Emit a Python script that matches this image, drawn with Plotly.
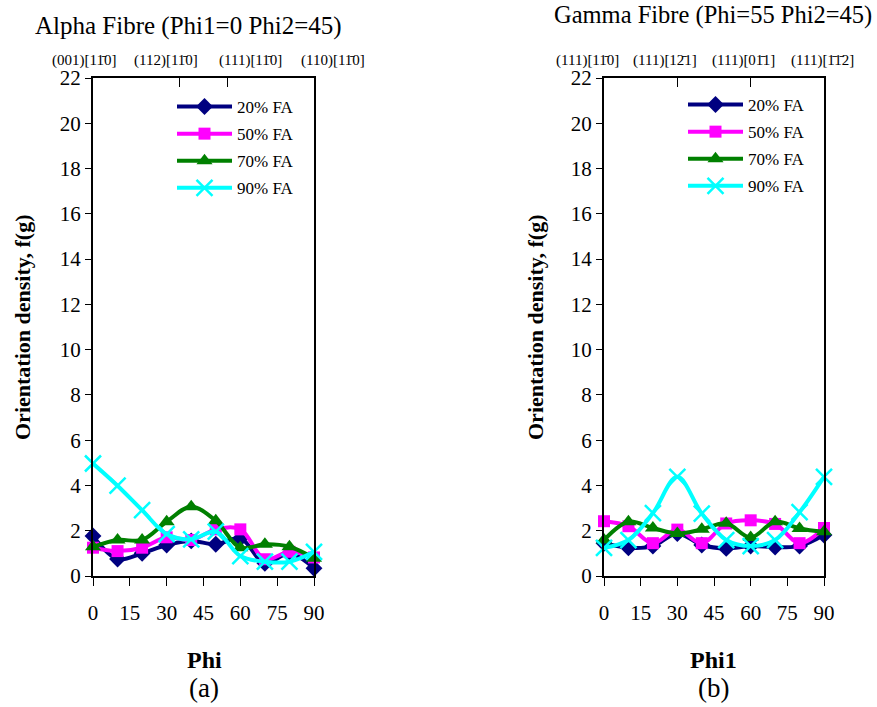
import plotly.graph_objects as go

# Sample angles (degrees) along each fibre
angles = [0, 10, 20, 30, 40, 50, 60, 70, 80, 90]

# Alpha fibre: orientation density f(g) vs Phi
alpha_20 = [1.77, 0.75, 1.00, 1.37, 1.55, 1.40, 1.66, 0.56, 1.00, 0.34]
alpha_50 = [1.25, 1.10, 1.25, 1.71, 1.59, 2.06, 2.06, 0.74, 1.07, 0.82]
alpha_70 = [1.29, 1.59, 1.59, 2.40, 3.06, 2.44, 1.25, 1.40, 1.29, 0.78]
alpha_90 = [4.97, 3.99, 2.91, 1.85, 1.62, 1.96, 0.88, 0.63, 0.63, 1.07]

# Gamma fibre: orientation density f(g) vs Phi1
gamma_20 = [1.45, 1.25, 1.32, 1.88, 1.37, 1.22, 1.32, 1.28, 1.32, 1.81]
gamma_50 = [2.42, 2.20, 1.45, 2.05, 1.45, 2.32, 2.46, 2.30, 1.45, 2.12]
gamma_70 = [1.59, 2.40, 2.12, 1.88, 2.06, 2.33, 1.70, 2.40, 2.10, 1.95]
gamma_90 = [1.24, 1.59, 2.78, 4.38, 2.76, 1.59, 1.32, 1.59, 2.82, 4.38]

series_names = ["20% FA", "50% FA", "70% FA", "90% FA"]
colors = ["#000080", "#FF00FF", "#008000", "#00FFFF"]
symbols = ["diamond", "square", "triangle-up", "x-thin"]
marker_sizes = [13, 12, 14, 16]

x_ticks = [0, 15, 30, 45, 60, 75, 90]
y_ticks = list(range(0, 23, 2))

alpha_top_ticks = [35.26, 54.74]
gamma_top_ticks = [30, 60]
alpha_top_labels = ["(001)[11\u03040]", "(112)[11\u03040]", "(111)[11\u03040]", "(110)[11\u03040]"]
gamma_top_labels = ["(111)[11\u03040]", "(111)[12\u03041]", "(111)[01\u03041]", "(111)[1\u03041\u03042]"]

FONT = "Liberation Serif"
W, H = 877, 707

# Label centres along the top strip, in pixels
alpha_top_px = [84, 166, 250, 333]
gamma_top_px = [587, 665, 743, 822]

fig = go.Figure()

def add_series(values_list, xa, ya, legend_id):
    for vals, name, col, sym, ms in zip(values_list, series_names, colors,
                                        symbols, marker_sizes):
        is_x = sym == "x-thin"
        fig.add_trace(go.Scatter(
            x=angles, y=vals, name=name,
            xaxis=xa, yaxis=ya, legend=legend_id, legendgroup=legend_id + name,
            mode="lines+markers",
            line=dict(color=col, width=4, shape="spline", smoothing=1.0),
            marker=dict(symbol=sym, color=col, size=ms,
                        line=dict(color=col, width=2.5 if is_x else 0)),
            cliponaxis=False,
        ))

add_series([alpha_20, alpha_50, alpha_70, alpha_90], "x", "y", "legend")
add_series([gamma_20, gamma_50, gamma_70, gamma_90], "x2", "y2", "legend2")

y_dom = [(H - 576) / H, (H - 78) / H]
left_dom = [93 / W, 314 / W]
right_dom = [604 / W, 824 / W]

tick_font = dict(family=FONT, size=21, color="black")

def xaxis_cfg(dom, anchor):
    return dict(domain=dom, anchor=anchor, range=[0, 90], tickvals=x_ticks,
                ticks="outside", ticklen=8, tickwidth=1.2, tickcolor="black",
                showline=True, linecolor="black", linewidth=2, mirror=True,
                showgrid=False, zeroline=False, tickfont=tick_font,
                ticklabelstandoff=9, automargin=False)

def yaxis_cfg(anchor):
    return dict(domain=y_dom, anchor=anchor, range=[0, 22], tickvals=y_ticks,
                ticks="outside", ticklen=6, tickwidth=1.2, tickcolor="black",
                showline=True, linecolor="black", linewidth=2, mirror=True,
                showgrid=False, zeroline=False, tickfont=tick_font,
                automargin=False)

def top_axis_cfg(overlay, anchor, tickvals):
    return dict(overlaying=overlay, anchor=anchor, side="top", range=[0, 90],
                tickvals=tickvals, ticks="inside", ticklen=9, tickwidth=1.2,
                tickcolor="black", showticklabels=False, showgrid=False,
                zeroline=False, showline=False, automargin=False)

legend_cfg = dict(font=dict(family=FONT, size=17, color="black"),
                  bgcolor="rgba(0,0,0,0)", itemwidth=55, tracegroupgap=2,
                  xanchor="left", yanchor="top")

fig.update_layout(
    width=W, height=H, autosize=False,
    margin=dict(l=0, r=0, t=0, b=0, pad=0, autoexpand=False),
    paper_bgcolor="white", plot_bgcolor="white",
    font=dict(family=FONT, color="black"),
    xaxis=xaxis_cfg(left_dom, "y"),
    yaxis=yaxis_cfg("x"),
    xaxis2=xaxis_cfg(right_dom, "y2"),
    yaxis2=yaxis_cfg("x2"),
    xaxis3=top_axis_cfg("x", "y", alpha_top_ticks),
    xaxis4=top_axis_cfg("x2", "y2", gamma_top_ticks),
    legend=dict(legend_cfg, x=172 / W, y=1 - 89 / H),
    legend2=dict(legend_cfg, x=683 / W, y=1 - 87 / H),
)

# Empty traces so the top tick axes are drawn
fig.add_trace(go.Scatter(x=[], y=[], xaxis="x3", yaxis="y", showlegend=False))
fig.add_trace(go.Scatter(x=[], y=[], xaxis="x4", yaxis="y2", showlegend=False))

annotations = []

def text(xpx, ypx, s, size, bold=False, angle=0):
    annotations.append(dict(
        x=xpx / W, y=1 - ypx / H, xref="paper", yref="paper",
        text=f"<b>{s}</b>" if bold else s,
        showarrow=False, textangle=angle, xanchor="center", yanchor="middle",
        font=dict(family=FONT, size=size, color="black")))

# Panel titles
text(188, 26, "Alpha Fibre (Phi1=0 Phi2=45)", 25)
text(713, 15, "Gamma Fibre (Phi=55 Phi2=45)", 24.5)

# Orientation labels above each panel
for lab, px in zip(alpha_top_labels, alpha_top_px):
    text(px, 60, lab, 15)
for lab, px in zip(gamma_top_labels, gamma_top_px):
    text(px, 60, lab, 15)

# Axis titles and panel letters
text(22, 327, "Orientation density, f(g)", 22, bold=True, angle=-90)
text(535, 327, "Orientation density, f(g)", 22, bold=True, angle=-90)
text(204, 660, "Phi", 24, bold=True)
text(713, 660, "Phi1", 24, bold=True)
text(204, 688, "(a)", 27)
text(713, 688, "(b)", 27)

fig.update_layout(annotations=annotations)

fig.write_html("out.html", config={"responsive": False})
